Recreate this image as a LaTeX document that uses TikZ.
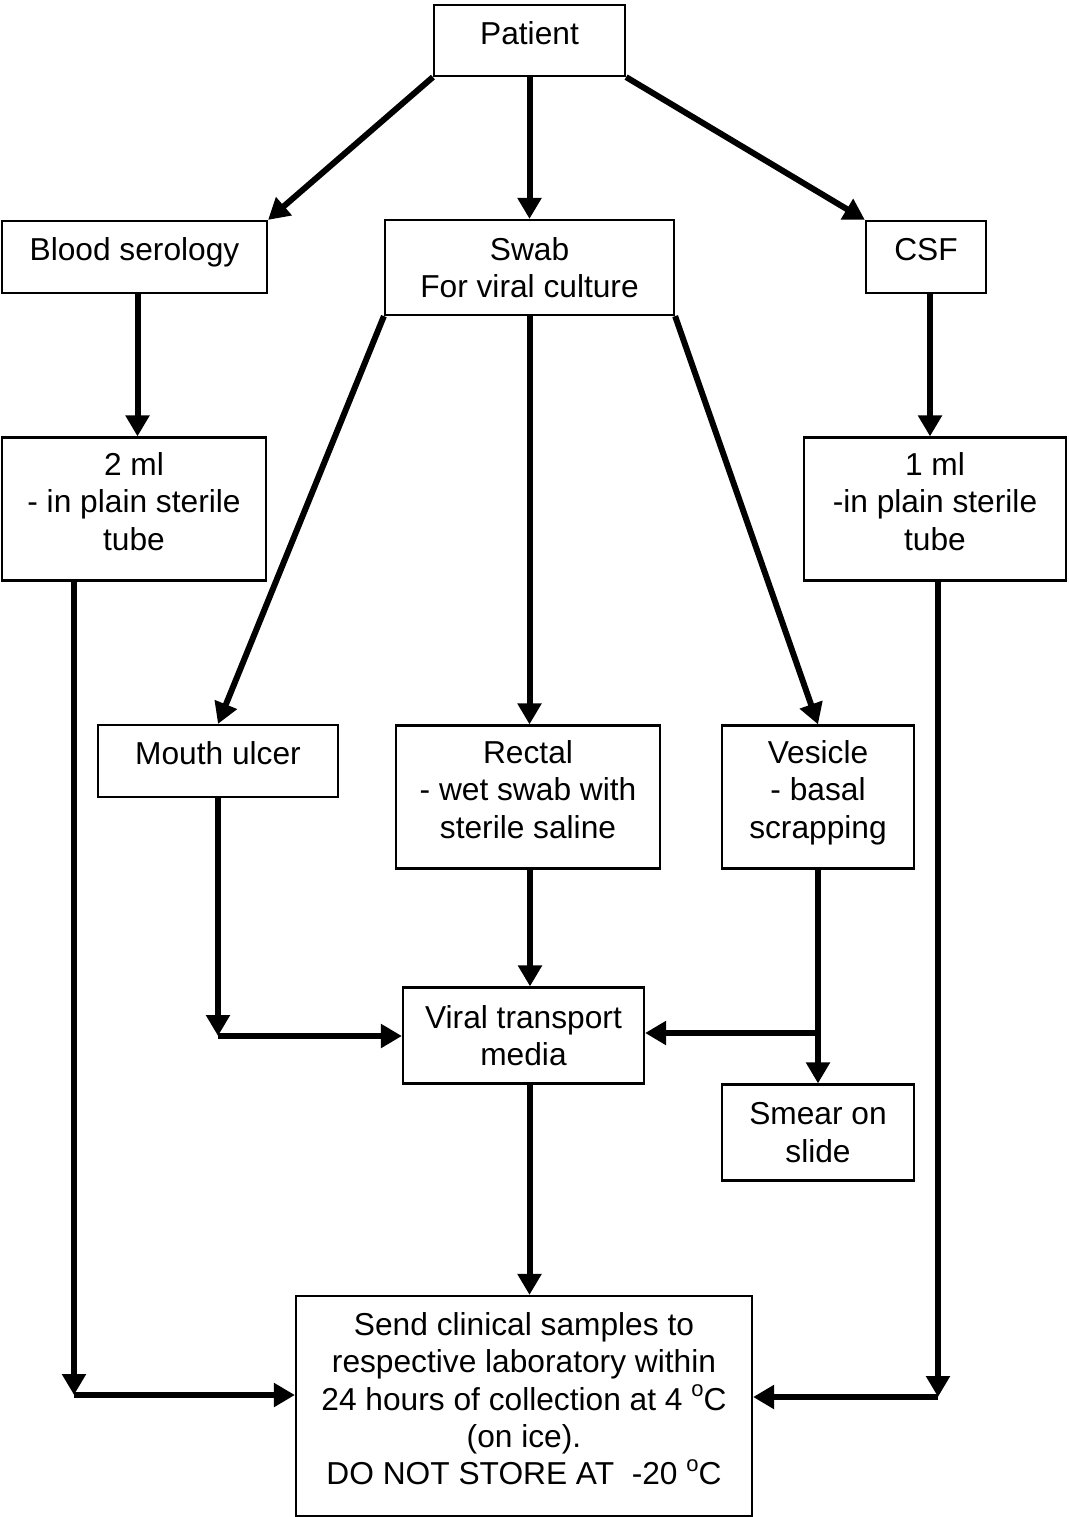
\documentclass[tikz,border=0pt]{standalone}
\usepackage{fontspec}
\setmainfont{Liberation Sans}
\usetikzlibrary{arrows.meta}
\newcommand{\degsup}{\raisebox{0.42em}{\fontsize{22}{22}\selectfont o}}
\tikzset{
  box/.style={draw,line width=2.2pt,align=center,inner sep=1pt,text depth=15pt,
    font=\fontsize{31.7}{37.4}\selectfont},
  twoline/.style={text depth=0pt},
  arr/.style={line width=6pt,-{Triangle[length=21pt,width=23pt]}}
}
\begin{document}
\begin{tikzpicture}[x=1pt,y=-1pt]
  \useasboundingbox (0,0) rectangle (1068,1517);
  \node[box,minimum width=191pt,minimum height=71pt] (patient) at (529.5,40.5) {Patient};
  \node[box,minimum width=265pt,minimum height=72pt] (blood) at (134.5,257) {Blood serology};
  \node[box,twoline,minimum width=289pt,minimum height=95pt] (swab) at (529.5,267.5) {Swab\\For viral culture};
  \node[box,minimum width=120pt,minimum height=72pt] (csf) at (926,257) {CSF};
  \node[box,minimum width=264pt,minimum height=143pt] (twoml) at (134,509) {2 ml\\- in plain sterile\\tube};
  \node[box,minimum width=262pt,minimum height=143pt] (oneml) at (935,509) {1 ml\\-in plain sterile\\tube};
  \node[box,minimum width=240pt,minimum height=72pt] (mouth) at (218,761) {Mouth ulcer};
  \node[box,minimum width=264pt,minimum height=143pt] (rectal) at (528,797) {Rectal\\- wet swab with\\sterile saline};
  \node[box,minimum width=192pt,minimum height=143pt] (vesicle) at (818,797) {Vesicle\\- basal\\scrapping};
  \node[box,twoline,minimum width=241pt,minimum height=96pt] (vtm) at (523.5,1035.5) {Viral transport\\media};
  \node[box,twoline,minimum width=192pt,minimum height=96pt] (smear) at (818,1132.5) {Smear on\\slide};
  \node[box,minimum width=456pt,minimum height=220pt] (send) at (524,1406) {Send clinical samples to\\respective laboratory within\\24 hours of collection at 4 \degsup C\\(on ice).\\DO NOT STORE AT~ -20 \degsup C};
  \coordinate (mcorner) at (218,1036);
  \coordinate (vbranch) at (818,1033);
  \coordinate (lcorner) at (74,1395);
  \coordinate (rcorner) at (938,1397);
  \draw[arr] (patient.south west) -- (blood.north east);
  \draw[arr] (patient.south) -- (swab.north);
  \draw[arr] (patient.south east) -- (csf.north west);
  \draw[arr] ([xshift=3pt]blood.south) -- ([xshift=3pt]blood.south |- twoml.north);
  \draw[arr] ([xshift=4pt]csf.south) -- ([xshift=4pt]csf.south |- oneml.north);
  \draw[arr] (swab.south west) -- (mouth.north);
  \draw[arr] (swab.south) -- (swab.south |- rectal.north);
  \draw[arr] (swab.south east) -- (vesicle.north);
  \draw[arr] (mouth.south) -- (mcorner);
  \draw[arr] (mcorner) -- (vtm.west |- mcorner);
  \draw[arr] ([xshift=2pt]rectal.south) -- ([xshift=2pt]rectal.south |- vtm.north);
  \draw[arr] (vesicle.south) -- (smear.north);
  \draw[arr] (vbranch) -- (vtm.east |- vbranch);
  \draw[arr] ([xshift=6pt]vtm.south) -- ([xshift=6pt]vtm.south |- send.north);
  \draw[arr] (twoml.south -| lcorner) -- (lcorner);
  \draw[arr] (lcorner) -- (send.west |- lcorner);
  \draw[arr] (oneml.south -| rcorner) -- (rcorner);
  \draw[arr] (rcorner) -- (send.east |- rcorner);
\end{tikzpicture}
\end{document}
